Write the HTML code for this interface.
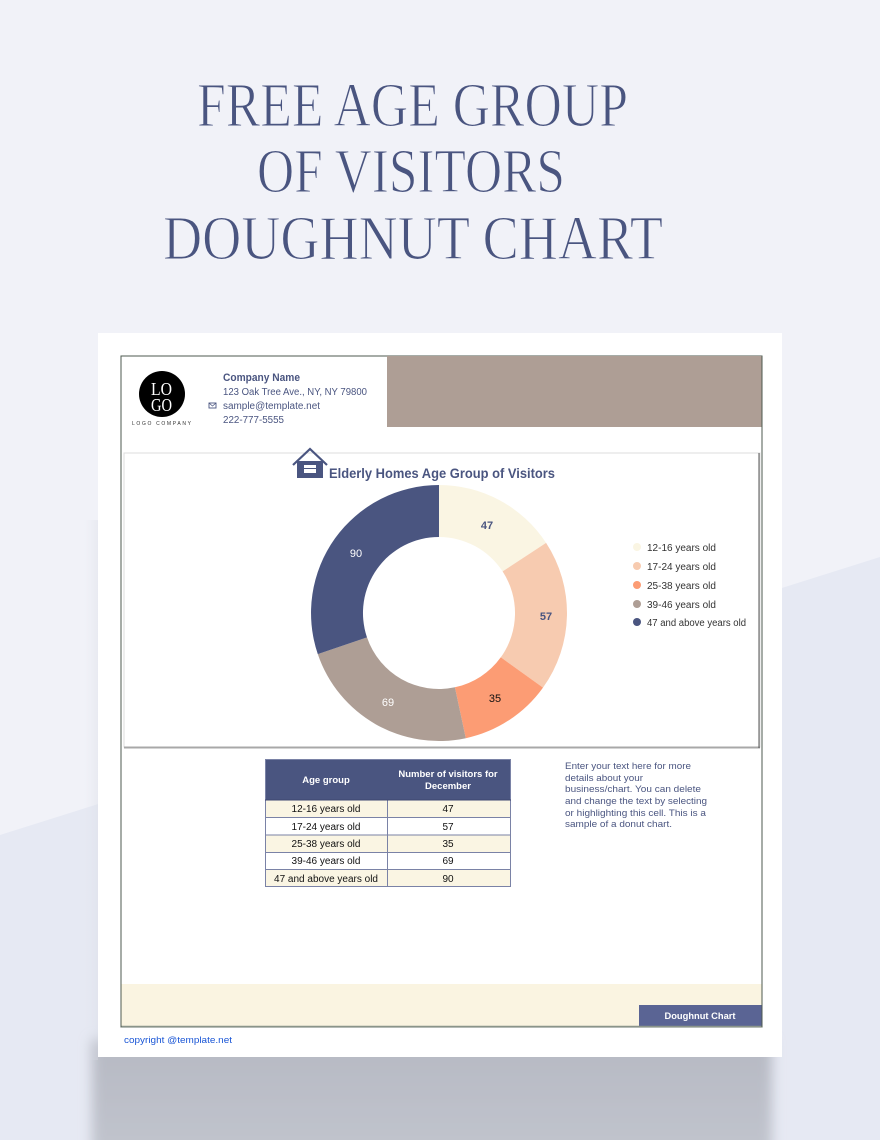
<!DOCTYPE html>
<html><head><meta charset="utf-8"><style>
html,body{margin:0;padding:0;width:880px;height:1140px;overflow:hidden;background:#f1f2f8}
svg{display:block}
text{font-family:"Liberation Sans",sans-serif}
</style></head><body>
<svg width="880" height="1140" viewBox="0 0 880 1140" xmlns="http://www.w3.org/2000/svg">
<defs>
<linearGradient id="sh" x1="0" y1="0" x2="0" y2="1"><stop offset="0" stop-color="#b6b9c3"/><stop offset="1" stop-color="#c3c6cf"/></linearGradient>
<linearGradient id="lsh" x1="0" y1="0" x2="1" y2="0"><stop offset="0" stop-color="#e0e3eb" stop-opacity="0"/><stop offset="1" stop-color="#d8dbe4"/></linearGradient>
<filter id="bl" x="-20%" y="-20%" width="140%" height="140%"><feGaussianBlur stdDeviation="6"/></filter>
</defs>
<rect width="880" height="1140" fill="#f1f2f8"/>
<polygon points="0,835 880,557 880,1140 0,1140" fill="#e6e9f3"/>
<!-- shadows -->
<rect x="92" y="1040" width="680" height="130" fill="url(#sh)" filter="url(#bl)"/>
<rect x="84" y="520" width="14" height="540" fill="url(#lsh)" opacity="0.35"/>
<!-- title -->
<g fill="#4a5580" stroke="#f1f2f8" stroke-width="1.1" font-size="62">
<text x="197" y="126" textLength="431" lengthAdjust="spacingAndGlyphs" style="font-family:'Liberation Serif',serif">FREE AGE GROUP</text>
<text x="257" y="192" textLength="308" lengthAdjust="spacingAndGlyphs" style="font-family:'Liberation Serif',serif">OF VISITORS</text>
<text x="163" y="259" textLength="500" lengthAdjust="spacingAndGlyphs" style="font-family:'Liberation Serif',serif">DOUGHNUT CHART</text>
</g>
<!-- paper -->
<rect x="98" y="333" width="684" height="724" fill="#fff"/>
<!-- frame -->
<rect x="121" y="356" width="641" height="671" fill="none" stroke="#4d5a4f" stroke-width="1"/>
<rect x="387" y="356" width="375" height="71" fill="#ae9e95"/>
<!-- logo -->
<circle cx="162" cy="394" r="23" fill="#000"/>
<text x="151" y="395" font-size="18" fill="#fff" textLength="21" lengthAdjust="spacingAndGlyphs" style="font-family:'Liberation Serif',serif">LO</text>
<text x="151" y="411" font-size="18" fill="#fff" textLength="21" lengthAdjust="spacingAndGlyphs" style="font-family:'Liberation Serif',serif">GO</text>
<text x="132" y="425" font-size="5" fill="#333" textLength="59" lengthAdjust="spacing">LOGO COMPANY</text>
<!-- company -->
<g fill="#4a5580">
<text x="223" y="381" font-size="11" font-weight="bold" textLength="77" lengthAdjust="spacingAndGlyphs">Company Name</text>
<text x="223" y="395" font-size="10" textLength="144" lengthAdjust="spacingAndGlyphs">123 Oak Tree Ave., NY, NY 79800</text>
<text x="223" y="409" font-size="10" textLength="97" lengthAdjust="spacingAndGlyphs">sample@template.net</text>
<text x="223" y="423" font-size="10" textLength="61" lengthAdjust="spacingAndGlyphs">222-777-5555</text>
<rect x="209" y="403" width="7" height="5" fill="none" stroke="#4a5580" stroke-width="0.9"/>
<path d="M209 403 L212.5 406 L216 403" fill="none" stroke="#4a5580" stroke-width="0.7"/>
</g>
<!-- chart box -->
<rect x="124" y="453" width="636" height="294" fill="#fff" stroke="#dcdcdc" stroke-width="1"/>
<line x1="124" y1="747.5" x2="760" y2="747.5" stroke="#a8a8a8" stroke-width="2"/>
<line x1="759" y1="453" x2="759" y2="748" stroke="#555" stroke-width="1"/>
<!-- house icon -->
<path d="M293 465 L310 449 L327 465" fill="none" stroke="#4a5580" stroke-width="2.2"/>
<rect x="297" y="461" width="26" height="17" fill="#4a5580"/>
<rect x="304" y="465" width="12" height="8" fill="#fff"/>
<rect x="304" y="468" width="12" height="1" fill="#4a5580"/>
<text x="329" y="478" font-size="14" font-weight="bold" fill="#4a5580" textLength="226" lengthAdjust="spacingAndGlyphs">Elderly Homes Age Group of Visitors</text>
<!-- donut -->
<path d="M439 485 A128 128 0 0 1 546.1 542.9 L502.6 571.4 A76 76 0 0 0 439 537 Z" fill="#faf5e3"/>
<path d="M546.1 542.9 A128 128 0 0 1 543 687.6 L500.8 657.3 A76 76 0 0 0 502.6 571.4 Z" fill="#f7cbb0"/>
<path d="M543 687.6 A128 128 0 0 1 465.8 738.2 L454.9 687.3 A76 76 0 0 0 500.8 657.3 Z" fill="#fc9c74"/>
<path d="M465.8 738.2 A128 128 0 0 1 317.8 654.1 L367 637.4 A76 76 0 0 0 454.9 687.3 Z" fill="#ae9e95"/>
<path d="M317.8 654.1 A128 128 0 0 1 439 485 L439 537 A76 76 0 0 0 367 637.4 Z" fill="#4a5580"/>
<g font-size="11" text-anchor="middle">
<text x="487" y="529" font-weight="bold" fill="#4a5580">47</text>
<text x="546" y="620" font-weight="bold" fill="#4a5580">57</text>
<text x="495" y="702" fill="#111">35</text>
<text x="388" y="706" fill="#fff">69</text>
<text x="356" y="557" fill="#fff">90</text>
</g>
<!-- legend -->
<g font-size="10" fill="#333">
<circle cx="637" cy="547" r="4" fill="#faf5e3"/><text x="647" y="551">12-16 years old</text>
<circle cx="637" cy="566" r="4" fill="#f7cbb0"/><text x="647" y="570">17-24 years old</text>
<circle cx="637" cy="585" r="4" fill="#fc9c74"/><text x="647" y="589">25-38 years old</text>
<circle cx="637" cy="604" r="4" fill="#ae9e95"/><text x="647" y="608">39-46 years old</text>
<circle cx="637" cy="622" r="4" fill="#4a5580"/><text x="647" y="626" textLength="99" lengthAdjust="spacingAndGlyphs">47 and above years old</text>
</g>
<!-- table -->
<rect x="265" y="759" width="246" height="41" fill="#4a5580"/>
<rect x="265" y="800" width="246" height="17" fill="#faf5e3"/>
<rect x="265" y="817" width="246" height="18" fill="#fff"/>
<rect x="265" y="835" width="246" height="17" fill="#faf5e3"/>
<rect x="265" y="852" width="246" height="17" fill="#fff"/>
<rect x="265" y="869" width="246" height="18" fill="#faf5e3"/>
<g stroke="#7a82a6" stroke-width="1" fill="none">
<rect x="265.5" y="759.5" width="245" height="127"/>
<line x1="265" y1="817.5" x2="511" y2="817.5"/>
<line x1="265" y1="835" x2="511" y2="835"/>
<line x1="265" y1="852.5" x2="511" y2="852.5"/>
<line x1="265" y1="869.5" x2="511" y2="869.5"/>
<line x1="387.5" y1="800" x2="387.5" y2="887"/>
</g>
<line x1="265" y1="800" x2="511" y2="800" stroke="#3d4670" stroke-width="1"/>
<g font-size="9.5" font-weight="bold" fill="#fff" text-anchor="middle">
<text x="326" y="783">Age group</text>
<text x="448" y="777">Number of visitors for</text>
<text x="448" y="789">December</text>
</g>
<g font-size="10" fill="#111" text-anchor="middle">
<text x="326" y="812">12-16 years old</text><text x="448" y="812">47</text>
<text x="326" y="830">17-24 years old</text><text x="448" y="830">57</text>
<text x="326" y="847">25-38 years old</text><text x="448" y="847">35</text>
<text x="326" y="864">39-46 years old</text><text x="448" y="864">69</text>
<text x="326" y="882">47 and above years old</text><text x="448" y="882">90</text>
</g>
<!-- description -->
<g font-size="9.5" fill="#4a5580">
<text x="565" y="769" textLength="126" lengthAdjust="spacingAndGlyphs">Enter your text here for more</text>
<text x="565" y="781" textLength="78" lengthAdjust="spacingAndGlyphs">details about your</text>
<text x="565" y="792" textLength="136" lengthAdjust="spacingAndGlyphs">business/chart. You can delete</text>
<text x="565" y="804" textLength="142" lengthAdjust="spacingAndGlyphs">and change the text by selecting</text>
<text x="565" y="816" textLength="141" lengthAdjust="spacingAndGlyphs">or highlighting this cell. This is a</text>
<text x="565" y="827" textLength="107" lengthAdjust="spacingAndGlyphs">sample of a donut chart.</text>
</g>
<!-- footer -->
<rect x="121.5" y="984" width="640" height="42" fill="#faf4e1"/>
<rect x="639" y="1005" width="123" height="21" fill="#5a6494"/>
<text x="700" y="1019" font-size="9.5" font-weight="bold" fill="#fff" text-anchor="middle" textLength="71" lengthAdjust="spacingAndGlyphs">Doughnut Chart</text>
<line x1="121" y1="1026.5" x2="762" y2="1026.5" stroke="#8a948a" stroke-width="1.5"/>
<line x1="121" y1="356" x2="121" y2="1027" stroke="#4d5a4f" stroke-width="1"/>
<line x1="762" y1="356" x2="762" y2="1027" stroke="#4d5a4f" stroke-width="1"/>
<text x="124" y="1043" font-size="9.5" fill="#1a56d6" textLength="108" lengthAdjust="spacingAndGlyphs">copyright @template.net</text>
</svg>
</body></html>
